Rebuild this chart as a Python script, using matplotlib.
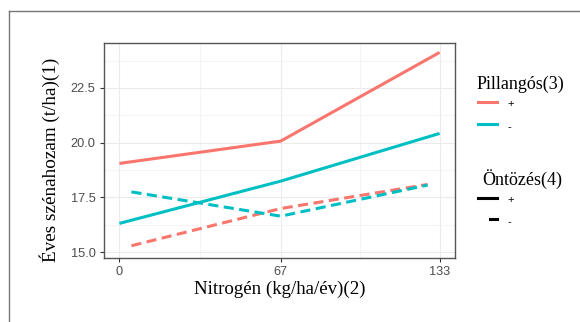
import matplotlib.pyplot as plt
from matplotlib.lines import Line2D

# data
nitrogen = [0, 67, 133]
nitrogen_dashed = [5, 67, 128]
pill_plus_ont_plus = [19.05, 20.07, 24.12]
pill_minus_ont_plus = [16.31, 18.24, 20.42]
pill_plus_ont_minus = [15.29, 16.99, 18.09]
pill_minus_ont_minus = [17.75, 16.64, 18.06]

yticks = [15.0, 17.5, 20.0, 22.5]
ytick_labels = ['15.0', '17.5', '20.0', '22.5']
xticks = [0, 67, 133]

red = '#F8766D'
cyan = '#00BFC4'
serif = ['Liberation Serif', 'DejaVu Serif']
sans = ['Liberation Sans', 'DejaVu Sans']

W, H = 580, 322
fig = plt.figure(figsize=(W / 100, H / 100), dpi=100)

def fx(px):
    return px / W

def fy(py):
    return 1 - py / H

# outer gray frame (cropped screenshot border)
fig.add_artist(Line2D([fx(8.5), fx(8.5)], [fy(11), 0], color='#777777', lw=1.0))
fig.add_artist(Line2D([fx(8.5), 1], [fy(11), fy(11)], color='#777777', lw=1.0))

ax = fig.add_axes([fx(104), fy(258), fx(455) - fx(104), fy(43) - fy(258)])

ax.plot(nitrogen, pill_plus_ont_plus, color=red, lw=2.2, solid_capstyle='butt')
ax.plot(nitrogen, pill_minus_ont_plus, color=cyan, lw=2.2, solid_capstyle='butt')
ax.plot(nitrogen_dashed, pill_plus_ont_minus, color=red, lw=2.2, dashes=(3.3, 1.8))
ax.plot(nitrogen_dashed, pill_minus_ont_minus, color=cyan, lw=2.2, dashes=(3.3, 1.8))

ax.set_xlim(-6.4, 139.4)
ax.set_ylim(14.73, 24.55)
ax.set_xticks(xticks)
ax.set_xticklabels([str(v) for v in xticks], fontfamily=sans, fontsize=9.2, color='#4D4D4D')
ax.set_yticks(yticks)
ax.set_yticklabels(ytick_labels, fontfamily=sans, fontsize=9.2, color='#4D4D4D')
ax.set_xticks([33.5, 100], minor=True)
ax.set_yticks([16.25, 18.75, 21.25, 23.75], minor=True)
ax.grid(True, which='major', color='#EBEBEB', lw=0.8)
ax.grid(True, which='minor', color='#F2F2F2', lw=0.6)
ax.set_axisbelow(True)
ax.tick_params(which='major', length=3, width=0.8, color='#333333', pad=3)
ax.tick_params(which='minor', length=0)
for s in ax.spines.values():
    s.set_color('#555555')
    s.set_linewidth(1.0)

ax.set_xlabel('Nitrogén (kg/ha/év)(2)', fontfamily=serif, fontsize=13.6, labelpad=2)
ax.set_ylabel('Éves szénahozam (t/ha)(1)', fontfamily=serif, fontsize=13.8)
ax.yaxis.set_label_coords(-0.125, 0.455)

# legends
fig.text(fx(477), fy(84), 'Pillangós(3)', fontfamily=serif, fontsize=13, va='center', ha='left')
fig.add_artist(Line2D([fx(478), fx(497)], [fy(102), fy(102)], color=red, lw=2.2))
fig.text(fx(507), fy(104), '+', fontfamily=sans, fontsize=8, va='center')
fig.add_artist(Line2D([fx(478), fx(497)], [fy(124), fy(124)], color=cyan, lw=2.2))
fig.text(fx(507), fy(127), '-', fontfamily=sans, fontsize=8, va='center')

fig.text(fx(482), fy(179), 'Öntözés(4)', fontfamily=serif, fontsize=13, va='center', ha='left')
fig.add_artist(Line2D([fx(478), fx(497)], [fy(198), fy(198)], color='black', lw=2.2))
fig.text(fx(507), fy(200), '+', fontfamily=sans, fontsize=8, va='center')
fig.add_artist(Line2D([fx(490), fx(497)], [fy(219), fy(219)], color='black', lw=2.2))
fig.text(fx(507), fy(222), '-', fontfamily=sans, fontsize=8, va='center')

fig.savefig('out.png', dpi=100)
